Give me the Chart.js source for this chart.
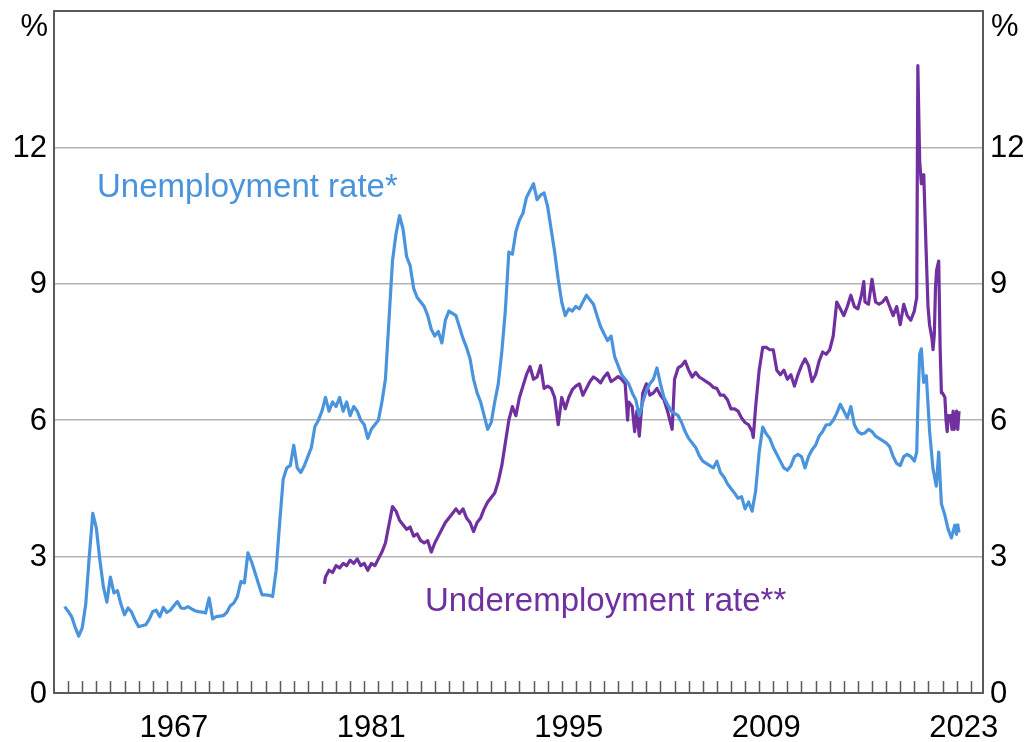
<!DOCTYPE html>
<html>
<head>
<meta charset="utf-8">
<script src="https://cdn.jsdelivr.net/npm/chart.js@4.4.1/dist/chart.umd.min.js"></script>
<style>
  html, body { margin: 0; padding: 0; background: #fff; }
  #wrap { width: 1029px; height: 742px; }
</style>
</head>
<body>
<div id="wrap"><canvas id="chart"></canvas></div>
<script>
const unempDates = [
  1959.75,
  1960, 1960.25, 1960.5, 1960.75, 1961, 1961.25, 1961.5, 1961.75,
  1962, 1962.25, 1962.5, 1962.75, 1963, 1963.25, 1963.5, 1963.75,
  1964, 1964.25, 1964.5, 1964.75, 1965, 1965.25, 1965.5, 1965.75,
  1966, 1966.25, 1966.5, 1966.75, 1967, 1967.25, 1967.5, 1967.75,
  1968, 1968.25, 1968.5, 1968.75, 1969, 1969.25, 1969.5, 1969.75,
  1970, 1970.25, 1970.5, 1970.75, 1971, 1971.25, 1971.5, 1971.75,
  1972, 1972.25, 1972.5, 1972.75, 1973, 1973.25, 1973.5, 1973.75,
  1974, 1974.25, 1974.5, 1974.75, 1975, 1975.25, 1975.5, 1975.75,
  1976, 1976.25, 1976.5, 1976.75, 1977, 1977.25, 1977.5, 1977.75,
  1978, 1978.25, 1978.5, 1978.75, 1979, 1979.25, 1979.5, 1979.75,
  1980, 1980.25, 1980.5, 1980.75, 1981, 1981.25, 1981.5, 1981.75,
  1982, 1982.25, 1982.5, 1982.75, 1983, 1983.25, 1983.5, 1983.75,
  1984, 1984.25, 1984.5, 1984.75, 1985, 1985.25, 1985.5, 1985.75,
  1986, 1986.25, 1986.5, 1986.75, 1987, 1987.25, 1987.5, 1987.75,
  1988, 1988.25, 1988.5, 1988.75, 1989, 1989.25, 1989.5, 1989.75,
  1990, 1990.25, 1990.5, 1990.75, 1991, 1991.25, 1991.5, 1991.75,
  1992, 1992.25, 1992.5, 1992.75, 1993, 1993.25, 1993.5, 1993.75,
  1994, 1994.25, 1994.5, 1994.75, 1995, 1995.25, 1995.5, 1995.75,
  1996, 1996.25, 1996.5, 1996.75, 1997, 1997.25, 1997.5, 1997.75,
  1998, 1998.25, 1998.5, 1998.75, 1999, 1999.25, 1999.5, 1999.75,
  2000, 2000.25, 2000.5, 2000.75, 2001, 2001.25, 2001.5, 2001.75,
  2002, 2002.25, 2002.5, 2002.75, 2003, 2003.25, 2003.5, 2003.75,
  2004, 2004.25, 2004.5, 2004.75, 2005, 2005.25, 2005.5, 2005.75,
  2006, 2006.25, 2006.5, 2006.75, 2007, 2007.25, 2007.5, 2007.75,
  2008, 2008.25, 2008.5, 2008.75, 2009, 2009.25, 2009.5, 2009.75,
  2010, 2010.25, 2010.5, 2010.75, 2011, 2011.25, 2011.5, 2011.75,
  2012, 2012.25, 2012.5, 2012.75, 2013, 2013.25, 2013.5, 2013.75,
  2014, 2014.25, 2014.5, 2014.75, 2015, 2015.25, 2015.5, 2015.75,
  2016, 2016.25, 2016.5, 2016.75, 2017, 2017.25, 2017.5, 2017.75,
  2018, 2018.25, 2018.5, 2018.75, 2019, 2019.25, 2019.5, 2019.75,
  2020, 2020.17, 2020.25, 2020.38, 2020.5, 2020.66, 2020.85,
  2021.09, 2021.32, 2021.56, 2021.73, 2021.92,
  2022.16, 2022.39, 2022.63, 2022.87, 2022.99, 2023.08, 2023.17
];
const unempRates = [
  1.9,
  1.8, 1.68, 1.45, 1.25, 1.43, 1.95, 3.0, 3.95,
  3.63, 2.93, 2.34, 2.0, 2.55, 2.2, 2.25, 1.95,
  1.72, 1.87, 1.78, 1.6, 1.46, 1.48, 1.5, 1.62,
  1.79, 1.82, 1.68, 1.88, 1.77, 1.82, 1.92, 2.01,
  1.87, 1.86, 1.9, 1.85, 1.81, 1.79, 1.78, 1.76,
  2.09, 1.63, 1.68, 1.69, 1.7, 1.77, 1.92, 1.98,
  2.12, 2.45, 2.42, 3.08, 2.89, 2.65, 2.4, 2.16,
  2.16, 2.15, 2.12, 2.7, 3.74, 4.7, 4.95, 5.0,
  5.45, 4.95, 4.85, 5.0, 5.2, 5.4, 5.86, 6.0,
  6.2, 6.5, 6.2, 6.4, 6.3, 6.5, 6.2, 6.4,
  6.1, 6.3, 6.2, 6.0, 5.9, 5.6, 5.8, 5.9,
  6.0, 6.4, 6.9, 8.2, 9.5, 10.1, 10.5, 10.2,
  9.6, 9.4, 8.9, 8.7, 8.6, 8.5, 8.3, 8.0,
  7.85, 7.95, 7.7, 8.2, 8.4, 8.35, 8.3, 8.05,
  7.8, 7.6, 7.35, 6.9, 6.6, 6.4, 6.1, 5.8,
  5.95, 6.4, 6.8, 7.5, 8.4, 9.7, 9.65, 10.15,
  10.4, 10.55, 10.9, 11.05, 11.2, 10.85, 10.95, 11.0,
  10.7, 10.2, 9.7, 9.1, 8.6, 8.3, 8.45, 8.4,
  8.5, 8.45, 8.6, 8.75, 8.65, 8.55, 8.3, 8.06,
  7.9, 7.75, 7.85, 7.4, 7.2, 7.0, 6.9, 6.8,
  6.6, 6.45, 6.1, 6.4, 6.65, 6.8, 6.9, 7.15,
  6.8, 6.5, 6.35, 6.2, 6.15, 6.1, 5.95, 5.75,
  5.6, 5.5, 5.4, 5.22, 5.1, 5.05, 5.0, 4.95,
  5.1, 4.85, 4.75, 4.6, 4.5, 4.4, 4.28, 4.32,
  4.05, 4.2, 4.0, 4.45, 5.3, 5.85, 5.7, 5.6,
  5.4, 5.25, 5.1, 4.95, 4.9, 5.0, 5.2, 5.25,
  5.2, 4.95, 5.2, 5.35, 5.45, 5.65, 5.75, 5.9,
  5.9, 6.0, 6.15, 6.35, 6.2, 6.05, 6.3, 5.9,
  5.75, 5.7, 5.72, 5.8, 5.75, 5.65, 5.6, 5.55,
  5.5, 5.42, 5.2, 5.05, 5.0, 5.2, 5.25, 5.2,
  5.1, 5.3, 6.3, 7.45, 7.57, 6.83, 6.98,
  5.73, 4.94, 4.55, 5.3, 4.16,
  3.92, 3.61, 3.41, 3.69, 3.49, 3.7, 3.53
];

// underemployment rate
const underDates = [
  1978.17, 1978.25, 1978.5, 1978.75, 1979, 1979.25, 1979.5, 1979.75,
  1980, 1980.25, 1980.5, 1980.75, 1981, 1981.25, 1981.5, 1981.75,
  1982, 1982.25, 1982.5, 1982.75, 1983, 1983.25, 1983.5, 1983.75,
  1984, 1984.25, 1984.5, 1984.75, 1985, 1985.25, 1985.5, 1985.75,
  1986, 1986.25, 1986.5, 1986.75, 1987, 1987.25, 1987.5, 1987.75,
  1988, 1988.25, 1988.5, 1988.75, 1989, 1989.25, 1989.5, 1989.75,
  1990, 1990.25, 1990.5, 1990.75, 1991, 1991.25, 1991.5, 1991.75,
  1992, 1992.25, 1992.5, 1992.75, 1993, 1993.25, 1993.5, 1993.75,
  1994, 1994.25, 1994.5, 1994.75, 1995, 1995.25, 1995.5, 1995.75,
  1996, 1996.25, 1996.5, 1996.75, 1997, 1997.25, 1997.5, 1997.75,
  1998, 1998.25, 1998.5, 1998.75, 1999, 1999.25, 1999.5, 1999.67, 1999.75,
  2000, 2000.17, 2000.33, 2000.5, 2000.75, 2001, 2001.25, 2001.5, 2001.75,
  2002, 2002.25, 2002.5, 2002.75, 2002.83, 2003, 2003.25, 2003.5, 2003.75,
  2004, 2004.25, 2004.5, 2004.75, 2005, 2005.25, 2005.5, 2005.75,
  2006, 2006.25, 2006.5, 2006.75, 2007, 2007.25, 2007.5, 2007.75,
  2008, 2008.25, 2008.5, 2008.58, 2008.75, 2009, 2009.25, 2009.5, 2009.75,
  2010, 2010.25, 2010.5, 2010.75, 2011, 2011.25, 2011.5, 2011.75,
  2012, 2012.25, 2012.5, 2012.75, 2013, 2013.25, 2013.5, 2013.75,
  2014, 2014.25, 2014.5, 2014.75, 2015, 2015.25, 2015.5, 2015.75,
  2016, 2016.25, 2016.42, 2016.5, 2016.75, 2017, 2017.25, 2017.5, 2017.75,
  2018, 2018.25, 2018.5, 2018.75, 2019, 2019.25, 2019.5, 2019.75,
  2020, 2020.17, 2020.25, 2020.38, 2020.5, 2020.58, 2020.67, 2020.83, 2020.97,
  2021.08, 2021.25, 2021.33, 2021.42, 2021.5, 2021.58, 2021.73, 2021.83, 2021.92,
  2022, 2022.17, 2022.25, 2022.33, 2022.42, 2022.5, 2022.58, 2022.67, 2022.75, 2022.83, 2022.92,
  2023, 2023.08, 2023.17
];
const underRates = [
  2.4, 2.55, 2.7, 2.65, 2.8, 2.75, 2.85, 2.8,
  2.92, 2.85, 2.95, 2.8, 2.85, 2.7, 2.85, 2.8,
  2.95, 3.1, 3.3, 3.7, 4.1, 4.0, 3.8, 3.7,
  3.6, 3.65, 3.45, 3.5, 3.35, 3.3, 3.35, 3.1,
  3.3, 3.45, 3.6, 3.75, 3.85, 3.95, 4.05, 3.95,
  4.05, 3.85, 3.75, 3.55, 3.75, 3.85, 4.05, 4.2,
  4.3, 4.4, 4.65, 5.0, 5.5, 6.0, 6.3, 6.1,
  6.5, 6.75, 7.0, 7.18, 6.9, 6.95, 7.2, 6.7,
  6.75, 6.7, 6.5, 5.9, 6.5, 6.25, 6.5, 6.67,
  6.75, 6.8, 6.55, 6.7, 6.85, 6.95, 6.9, 6.82,
  6.95, 7.04, 6.85, 6.9, 6.96, 6.9, 6.8, 6.0, 6.4,
  6.3, 5.75, 6.2, 5.65, 6.6, 6.8, 6.55, 6.6, 6.7,
  6.55, 6.45, 6.2, 5.9, 5.8, 6.9, 7.15, 7.2, 7.3,
  7.1, 6.95, 7.05, 6.95, 6.9, 6.85, 6.8, 6.72,
  6.7, 6.55, 6.55, 6.45, 6.25, 6.25, 6.2, 6.05,
  5.95, 5.9, 5.75, 5.62, 6.3, 7.1, 7.6, 7.6, 7.55,
  7.55, 7.1, 7.0, 7.1, 6.9, 7.0, 6.75, 7.0,
  7.2, 7.35, 7.2, 6.85, 7.0, 7.3, 7.5, 7.45,
  7.55, 7.85, 8.6, 8.45, 8.3, 8.5, 8.75, 8.5,
  8.45, 8.75, 9.05, 8.6, 8.55, 9.1, 8.6, 8.55, 8.6,
  8.7, 8.5, 8.3, 8.5, 8.1, 8.55, 8.3, 8.2,
  8.4, 8.7, 13.8, 11.7, 11.2, 11.3, 11.4, 9.8, 8.5,
  8.1, 7.8, 7.55, 7.9, 8.9, 9.3, 9.5, 7.6, 6.6,
  6.6, 6.5, 6.0, 5.75, 6.1, 6.0, 6.1, 5.8, 6.2, 5.8, 6.05,
  6.2, 5.8, 6.2
];

const yearLabels = [1967, 1981, 1995, 2009, 2023];
const yTicks = [0, 3, 6, 9, 12];

const blue = '#4a94de';
const purple = '#7030a0';
const frameColor = '#5a5a5a';
const labelFont = '31px "Liberation Sans", Arial, sans-serif';
const noteFont = '33px "Liberation Sans", Arial, sans-serif';

const toPoints = (dates, vals) => dates.map((d, i) => ({ x: d, y: vals[i] }));

const decorations = {
  id: 'decorations',
  afterDatasetsDraw(chart) {
    const { ctx, chartArea: a, scales: { x, y } } = chart;
    ctx.save();
    // yearly tick marks pointing up into the plot
    ctx.strokeStyle = frameColor;
    ctx.lineWidth = 1.5;
    ctx.beginPath();
    for (let yr = 1960; yr <= 2024; yr++) {
      const px = Math.round(x.getPixelForValue(yr)) + 0.5;
      ctx.moveTo(px, a.bottom);
      ctx.lineTo(px, a.bottom - 12);
    }
    ctx.stroke();
    // frame
    ctx.lineWidth = 2;
    ctx.strokeRect(a.left, a.top, a.right - a.left, a.bottom - a.top);

    ctx.fillStyle = '#000';
    ctx.font = labelFont;

    // y labels on both sides
    ctx.textBaseline = 'middle';
    yTicks.forEach(v => {
      const py = y.getPixelForValue(v);
      ctx.textAlign = 'right';
      ctx.fillText(String(v), a.left - 7, py + 1);
      ctx.textAlign = 'left';
      ctx.fillText(String(v), a.right + 7, py + 1);
    });

    // year labels sit in the middle of the year
    ctx.textAlign = 'center';
    ctx.textBaseline = 'alphabetic';
    yearLabels.forEach(yr => ctx.fillText(String(yr), x.getPixelForValue(yr + 0.5), a.bottom + 44));

    // units
    ctx.textAlign = 'right';
    ctx.fillText('%', a.left - 6, a.top + 25);
    ctx.textAlign = 'left';
    ctx.fillText('%', a.right + 8, a.top + 25);

    // series labels
    ctx.font = noteFont;
    ctx.fillStyle = blue;
    ctx.fillText('Unemployment rate*', x.getPixelForValue(1962.05), y.getPixelForValue(10.9));
    ctx.fillStyle = purple;
    ctx.fillText('Underemployment rate**', x.getPixelForValue(1985.3), y.getPixelForValue(1.8));
    ctx.restore();
  }
};

const yAxis = (pos, width) => ({
  position: pos,
  min: 0,
  max: 15,
  afterBuildTicks: s => { s.ticks = [...yTicks, 15].map(v => ({ value: v })); },
  ticks: { display: false },
  grid: {
    display: pos === 'left',
    drawTicks: false,
    color: c => (c.tick.value === 0 || c.tick.value === 15 ? 'rgba(0,0,0,0)' : '#b4b4b4'),
    lineWidth: 1.5
  },
  border: { display: false },
  afterFit: s => { s.width = width; }
});

new Chart(document.getElementById('chart'), {
  type: 'line',
  data: {
    datasets: [
      {
        label: 'Unemployment rate*',
        data: toPoints(unempDates, unempRates),
        borderColor: blue,
        borderWidth: 3.2,
        pointRadius: 0,
        tension: 0,
        borderJoinStyle: 'round'
      },
      {
        label: 'Underemployment rate**',
        data: toPoints(underDates, underRates),
        borderColor: purple,
        borderWidth: 3.2,
        pointRadius: 0,
        tension: 0,
        borderJoinStyle: 'round'
      }
    ]
  },
  options: {
    responsive: true,
    maintainAspectRatio: false,
    animation: false,
    layout: { padding: { top: 11, left: 0, right: 0, bottom: 0 } },
    plugins: { legend: { display: false }, tooltip: { enabled: false } },
    scales: {
      x: {
        type: 'linear',
        min: 1959,
        max: 2024.87,
        ticks: { display: false },
        grid: { display: false },
        border: { display: false },
        afterFit: s => { s.height = 49; }
      },
      y: yAxis('left', 54),
      y2: yAxis('right', 46)
    }
  },
  plugins: [decorations]
});
</script>
</body>
</html>
